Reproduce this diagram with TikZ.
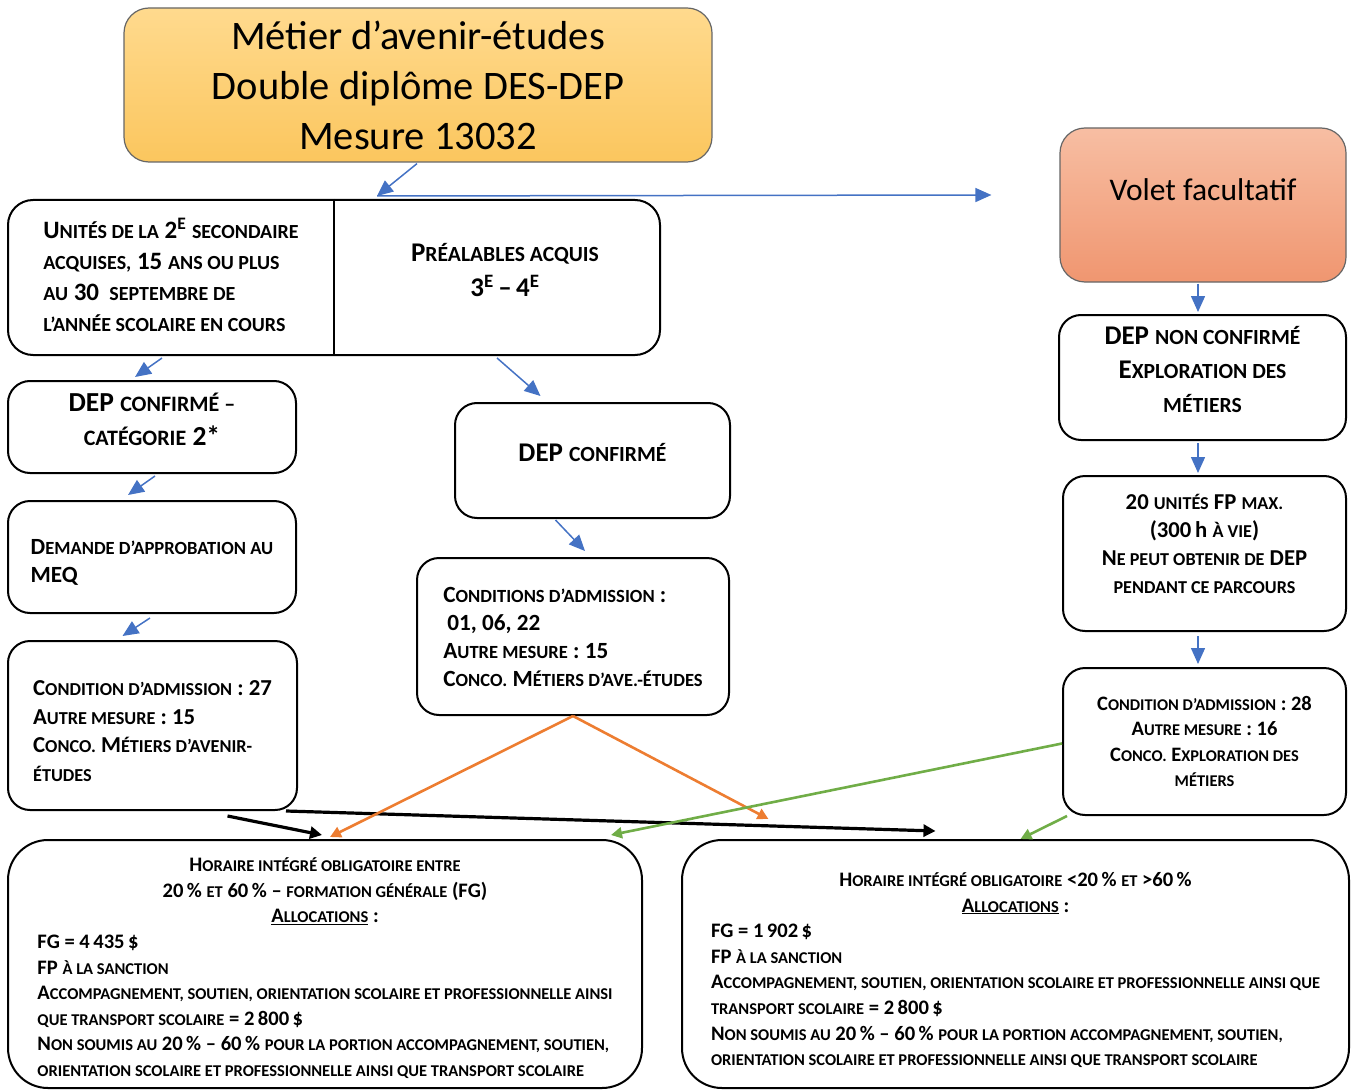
\documentclass[tikz,border=0pt]{standalone}
\usepackage{fontspec}
\setmainfont{Carlito}
\usepackage{scalefnt}
\usetikzlibrary{arrows.meta,calc}

% small caps as Word fakes them
\newcommand\smc[1]{{\scalefont{0.8}\MakeUppercase{#1}}}
% move text inside its box, box keeps its size
\newcommand\lift[2]{\raisebox{#1}[\height][\depth]{#2}}

\definecolor{arrblue}{RGB}{68,114,196}
\definecolor{arrorange}{RGB}{237,125,49}
\definecolor{arrgreen}{RGB}{112,173,71}

\tikzset{
  box/.style={draw, line width=2pt, rounded corners=22pt, inner sep=0pt},
  titlebox/.style={draw=black!60, line width=1.2pt, rounded corners=25pt, align=center,
    top color={rgb,255:red,255;green,218;blue,142}, bottom color={rgb,255:red,251;green,198;blue,94}},
  voletbox/.style={draw=black!60, line width=1.2pt, rounded corners=25pt,
    top color={rgb,255:red,247;green,190;blue,163}, bottom color={rgb,255:red,240;green,150;blue,112}},
  bluearr/.style={draw=arrblue, line width=1.5pt, -{Triangle[length=16pt,width=14pt]}},
  blackarr/.style={draw=black, line width=3.2pt, -{Triangle[length=12pt,width=12pt]}},
  orangearr/.style={draw=arrorange, line width=2.6pt, -{Triangle[length=11pt,width=11pt]}},
  greenarr/.style={draw=arrgreen, line width=2.6pt, -{Triangle[length=11pt,width=11pt]}},
}

\begin{document}
\begin{tikzpicture}[x=1pt, y=-1pt]
    \useasboundingbox (0,0) rectangle (1351,1091);

    % top title and volet
    \node[titlebox, minimum width=588pt, minimum height=154pt, font=\fontsize{40.5}{50}\selectfont]
        (title) at (418,85) {Métier d’avenir-études\\Double diplôme DES-DEP\\Mesure 13032};
    \node[voletbox, minimum width=286pt, minimum height=154pt, font=\fontsize{31.5}{38}\selectfont]
        (volet) at (1203,205) {\lift{15pt}{Volet facultatif}};

    % split box, two halves
    \node[box, rounded corners=25pt, minimum width=652pt, minimum height=155pt] (split) at (334,277.5) {};
    \draw[line width=1.2pt] (split.north) -- (split.south);
    \node[align=left, font=\bfseries\fontsize{25}{31}\selectfont] (splitL) at (171,275)
        {U\smc{nités de la} 2\textsuperscript{E} \smc{secondaire}\\
         \smc{acquises,} 15 \smc{ans ou plus}\\
         \smc{au} 30 \smc{ septembre de}\\
         \smc{l’année scolaire en cours}};
    \node[align=center, font=\bfseries\fontsize{27}{35}\selectfont] (splitR) at (505,270)
        {P\smc{réalables acquis}\\3\textsuperscript{E}\,–\,4\textsuperscript{E}};

    % left column
    \node[box, minimum width=288pt, minimum height=92pt, font=\bfseries\fontsize{27.5}{34}\selectfont]
        (cat2) at (152,427) {\lift{5.5pt}{\begin{tabular}{@{}c@{}}DEP \smc{confirmé –}\\\smc{catégorie} 2*\end{tabular}}};
    \node[box, minimum width=288pt, minimum height=112pt, font=\bfseries\fontsize{23.2}{28}\selectfont]
        (demande) at (152,557) {\lift{-6pt}{\begin{tabular}{@{}l@{}}D\smc{emande d’approbation au}\\MEQ\end{tabular}}};
    \node[box, minimum width=289pt, minimum height=169pt, font=\bfseries\fontsize{22.8}{28.5}\selectfont]
        (cond27) at (152.5,725.5)
        {\lift{-7.5pt}{\begin{tabular}{@{}l@{}}C\smc{ondition d’admission} : 27\\A\smc{utre mesure} : 15\\C\smc{onco.} M\smc{étiers d’avenir-}\\\smc{études}\end{tabular}}};

    % middle column
    \node[box, align=center, minimum width=275pt, minimum height=115pt, font=\bfseries\fontsize{27}{34}\selectfont]
        (depconf) at (592.5,460.5) {\lift{8pt}{DEP \smc{confirmé}}};
    \node[box, align=left, minimum width=312pt, minimum height=157pt, font=\bfseries\fontsize{23.2}{28}\selectfont]
        (cond01) at (573,636.5)
        {C\smc{onditions d’admission} :\\\hspace{4pt}01, 06, 22\\A\smc{utre mesure} : 15\\C\smc{onco.} M\smc{étiers d’ave.-études}};

    % right column
    \node[box, minimum width=287pt, minimum height=125pt, font=\bfseries\fontsize{27}{34}\selectfont]
        (nonconf) at (1202.5,377.5)
        {\lift{6pt}{\begin{tabular}{@{}c@{}}DEP \smc{non confirmé}\\E\smc{xploration des}\\\smc{métiers}\end{tabular}}};
    \node[box, minimum width=283pt, minimum height=155pt, font=\bfseries\fontsize{22.7}{28}\selectfont]
        (unites) at (1204.5,553.5)
        {\lift{7.5pt}{\begin{tabular}{@{}c@{}}20 \smc{unités} FP \smc{max.}\\(300\,h \smc{à vie})\\N\smc{e peut obtenir de} DEP\\\smc{pendant ce parcours}\end{tabular}}};
    \node[box, align=center, minimum width=283pt, minimum height=147pt, font=\bfseries\fontsize{20.5}{25.5}\selectfont]
        (cond28) at (1204.5,741.5)
        {C\smc{ondition d’admission} : 28\\A\smc{utre mesure} : 16\\C\smc{onco.} E\smc{xploration des}\\\smc{métiers}};

    % bottom boxes
    \node[box, rounded corners=40pt, minimum width=634pt, minimum height=248pt, font=\bfseries\fontsize{20.6}{25.6}\selectfont]
        (fgmid) at (325,964)
        {\lift{-5pt}{\begin{tabular}{@{}l@{}}
         \multicolumn{1}{@{}c@{}}{H\smc{oraire intégré obligatoire entre}}\\
         \multicolumn{1}{@{}c@{}}{20\,\% \smc{et} 60\,\% – \smc{formation générale} (FG)}\\
         \multicolumn{1}{@{}c@{}}{\underline{A\smc{llocations}} :}\\
         FG = 4\,435\,\$\\
         FP \smc{à la sanction}\\
         A\smc{ccompagnement, soutien, orientation scolaire et professionnelle ainsi}\\
         \smc{que transport scolaire} = 2\,800\,\$\\
         N\smc{on soumis au} 20\,\% – 60\,\% \smc{pour la portion accompagnement, soutien,}\\
         \smc{orientation scolaire et professionnelle ainsi que transport scolaire}
         \end{tabular}}};
    \node[box, rounded corners=40pt, minimum width=667pt, minimum height=248pt, font=\bfseries\fontsize{20.6}{25.6}\selectfont]
        (fgout) at (1015.5,964)
        {\lift{-7pt}{\begin{tabular}{@{}l@{}}
         \multicolumn{1}{@{}c@{}}{H\smc{oraire intégré obligatoire} <20\,\% \smc{et} >60\,\%}\\
         \multicolumn{1}{@{}c@{}}{\underline{A\smc{llocations}} :}\\
         FG = 1\,902\,\$\\
         FP \smc{à la sanction}\\
         A\smc{ccompagnement, soutien, orientation scolaire et professionnelle ainsi que}\\
         \smc{transport scolaire} = 2\,800\,\$\\
         N\smc{on soumis au} 20\,\% – 60\,\% \smc{pour la portion accompagnement, soutien,}\\
         \smc{orientation scolaire et professionnelle ainsi que transport scolaire}
         \end{tabular}}};

    % title to split, then on to volet
    \coordinate (fork) at ($(split.north)+(43,-3)$);
    \coordinate (voletgoal) at ($(volet.west)+(-68,-10)$);
    \draw[bluearr] ($(title.south)+(-1,1)$) -- (fork);
    \draw[bluearr] (fork) -- (voletgoal);

    % split down
    \draw[bluearr] ($(split.south)+(-172,2)$) -- ($(cat2.north)+(-17,-3)$);
    \draw[bluearr] ($(split.south)+(163,2)$) -- ($(depconf.north)+(-52,-6)$);
    \draw[bluearr] ($(cat2.south)+(3,2)$) -- ($(demande.north)+(-24,-5)$);
    \draw[bluearr] ($(demande.south)+(-2,4)$) -- ($(cond27.north)+(-30,-4)$);
    \draw[bluearr] ($(depconf.south)+(-37,1)$) -- ($(cond01.north)+(12,-6)$);

    % volet column
    \draw[bluearr] ($(volet.south)+(-5,1)$) -- ($(nonconf.north)+(-4.5,-2)$);
    \draw[bluearr] ($(nonconf.south)+(-4.5,2)$) -- ($(unites.north)+(-6.5,-2)$);
    \draw[bluearr] ($(unites.south)+(-6.5,4)$) -- ($(cond28.north)+(-6.5,-3)$);

    % to the bottom boxes
    \draw[blackarr] ($(cond27.south)+(75,5)$) -- ($(fgmid.north)+(-3,-4)$);
    \draw[blackarr] ($(cond27.south east)+(-12,0)$) -- ($(fgout.north)+(-80,-8)$);
    \draw[orangearr] (cond01.south) -- ($(fgmid.north)+(5,-2)$);
    \draw[orangearr] (cond01.south) -- ($(fgout.north)+(-247,-20)$);
    \draw[greenarr] ($(cond28.west)+(0,2)$) -- ($(fgmid.north east)+(-32,-4)$);
    \draw[greenarr] ($(cond28.south west)+(5,0)$) -- ($(fgout.north)+(5,0)$);
\end{tikzpicture}
\end{document}
